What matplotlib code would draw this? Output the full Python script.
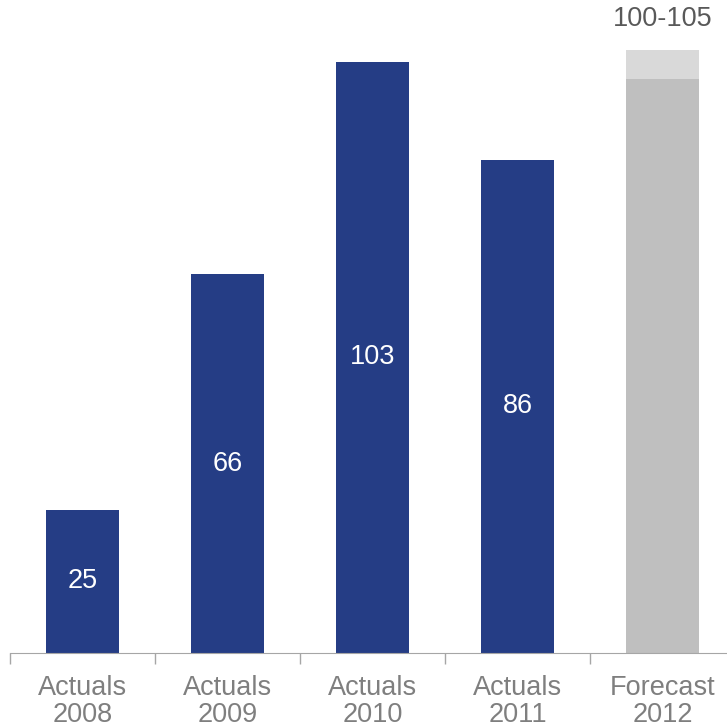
import matplotlib.pyplot as plt

plt.rcParams['font.family'] = ['Liberation Sans', 'DejaVu Sans']

categories = ['Actuals\n2008', 'Actuals\n2009', 'Actuals\n2010', 'Actuals\n2011', 'Forecast\n2012']
actuals = [25, 66, 103, 86]
forecast_low = 100
forecast_high = 105

navy = '#253D85'
gray_text = '#7F7F7F'
fs = 19.5

fig = plt.figure(figsize=(7.27, 7.27), dpi=100)
ax = fig.add_axes([10 / 727, 74 / 727, 717 / 727, 653 / 727])

x = list(range(len(categories)))
bars = ax.bar(x[:4], actuals, width=0.5, color=navy)
for b, v in zip(bars, actuals):
    ax.text(b.get_x() + b.get_width() / 2, v / 2, str(v), ha='center', va='center',
            color='white', fontsize=fs)

# forecast range: solid base plus lighter band for the upper end
ax.bar(x[4], forecast_low, width=0.5, color='#BFBFBF')
ax.bar(x[4], forecast_high - forecast_low, bottom=forecast_low, width=0.5, color='#D9D9D9')
ax.annotate(f'{forecast_low}-{forecast_high}', (x[4], forecast_high), xytext=(0, 23),
            textcoords='offset points', ha='center', va='center', color='#595959', fontsize=fs)

ax.set_xlim(-0.5, 4.445)
ax.set_ylim(0, 113.8)

ax.set_xticks([i - 0.5 for i in x])
ax.set_xticklabels([])
ax.set_xticks(x, minor=True)
ax.set_xticklabels(categories, minor=True, fontsize=fs, color=gray_text, linespacing=1.05)
ax.tick_params(axis='x', which='major', length=8, color='#A6A6A6', width=1)
ax.tick_params(axis='x', which='minor', length=0, pad=16)

for s in ['top', 'right', 'left']:
    ax.spines[s].set_visible(False)
ax.spines['bottom'].set_color('#A6A6A6')
ax.set_yticks([])

fig.savefig('out.png', dpi=100)
